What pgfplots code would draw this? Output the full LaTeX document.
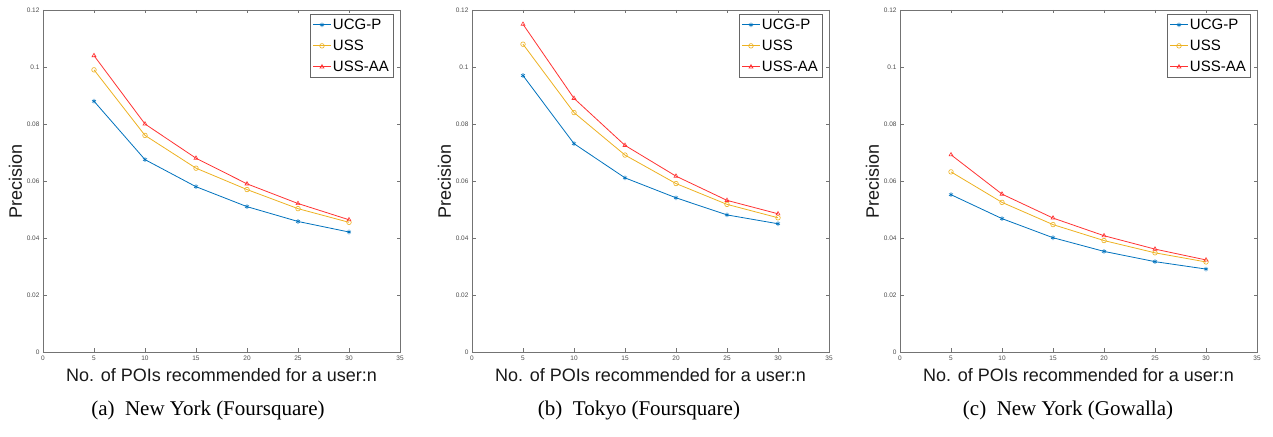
\documentclass[border=0pt]{standalone}
\usepackage{pgfplots}
\pgfplotsset{compat=1.18}
\usepackage{fontspec}
\setmainfont{Liberation Serif}
\setsansfont{Liberation Sans}

\definecolor{mblue}{rgb}{0,0.447,0.741}
\definecolor{morange}{rgb}{0.929,0.694,0.125}
\definecolor{mred}{rgb}{1,0.2,0.2}

\pgfplotsset{
  panel/.style={
    scale only axis, width=357pt, height=342pt,
    xmin=0, xmax=35, ymin=0, ymax=0.12,
    xtick={0,5,10,15,20,25,30,35},
    ytick={0,0.02,0.04,0.06,0.08,0.1,0.12},
    yticklabels={0,0.02,0.04,0.06,0.08,0.1,0.12},
    scaled y ticks=false,
    tick align=inside, major tick length=3.5pt,
    axis line style={black!55, line width=0.6pt},
    every tick/.style={black!55, line width=0.6pt},
    tick label style={font=\sffamily\fontsize{6.5}{7}\selectfont, text=black!70},
    /pgf/number format/assume math mode=true,
    xlabel={No. of POIs recommended for a user:n},
    ylabel={Precision},
    label style={font=\sffamily\fontsize{18}{20}\selectfont, text=black!90},
    xlabel style={yshift=-1pt},
    ylabel style={yshift=-2pt},
    legend cell align=left,
    legend style={at={(0.982,0.988)}, anchor=north east, draw=black!60,
      font=\sffamily\fontsize{15}{17}\selectfont, inner sep=2.5pt, row sep=5pt,
      line width=0.6pt},
    every axis plot/.append style={line width=0.8pt, mark size=2.3pt,
      mark options={line width=0.6pt}},
  },
  ucg/.style={color=mblue, mark=asterisk},
  uss/.style={color=morange, mark=o},
  ussaa/.style={color=mred, mark=triangle},
}

\begin{document}
\begin{tikzpicture}
\path[use as bounding box] (0,0) rectangle (1273pt,436pt);

\begin{axis}[panel, at={(43pt,84pt)}, anchor=south west]
\addplot[ucg] coordinates {(5,0.0880) (10,0.0675) (15,0.0580) (20,0.0510) (25,0.0458) (30,0.0421)};
\addlegendentry{UCG-P}
\addplot[uss] coordinates {(5,0.0990) (10,0.0760) (15,0.0645) (20,0.0570) (25,0.0503) (30,0.0455)};
\addlegendentry{USS}
\addplot[ussaa] coordinates {(5,0.1040) (10,0.0800) (15,0.0680) (20,0.0590) (25,0.0521) (30,0.0464)};
\addlegendentry{USS-AA}
\end{axis}

\begin{axis}[panel, at={(472pt,84pt)}, anchor=south west]
\addplot[ucg] coordinates {(5,0.0970) (10,0.0731) (15,0.0611) (20,0.0541) (25,0.0481) (30,0.0450)};
\addlegendentry{UCG-P}
\addplot[uss] coordinates {(5,0.1080) (10,0.0840) (15,0.0691) (20,0.0591) (25,0.0518) (30,0.0471)};
\addlegendentry{USS}
\addplot[ussaa] coordinates {(5,0.1150) (10,0.0890) (15,0.0725) (20,0.0617) (25,0.0532) (30,0.0485)};
\addlegendentry{USS-AA}
\end{axis}

\begin{axis}[panel, at={(900pt,84pt)}, anchor=south west]
\addplot[ucg] coordinates {(5,0.0552) (10,0.0468) (15,0.0401) (20,0.0353) (25,0.0317) (30,0.0291)};
\addlegendentry{UCG-P}
\addplot[uss] coordinates {(5,0.0632) (10,0.0525) (15,0.0447) (20,0.0391) (25,0.0348) (30,0.0316)};
\addlegendentry{USS}
\addplot[ussaa] coordinates {(5,0.0692) (10,0.0554) (15,0.0470) (20,0.0408) (25,0.0361) (30,0.0323)};
\addlegendentry{USS-AA}
\end{axis}

\node[font=\fontsize{21}{24}\selectfont] at (208pt,26pt) {(a)\enspace New York (Foursquare)};
\node[font=\fontsize{21}{24}\selectfont] at (639pt,26pt) {(b)\enspace Tokyo (Foursquare)};
\node[font=\fontsize{21}{24}\selectfont] at (1068pt,26pt) {(c)\enspace New York (Gowalla)};
\end{tikzpicture}
\end{document}
